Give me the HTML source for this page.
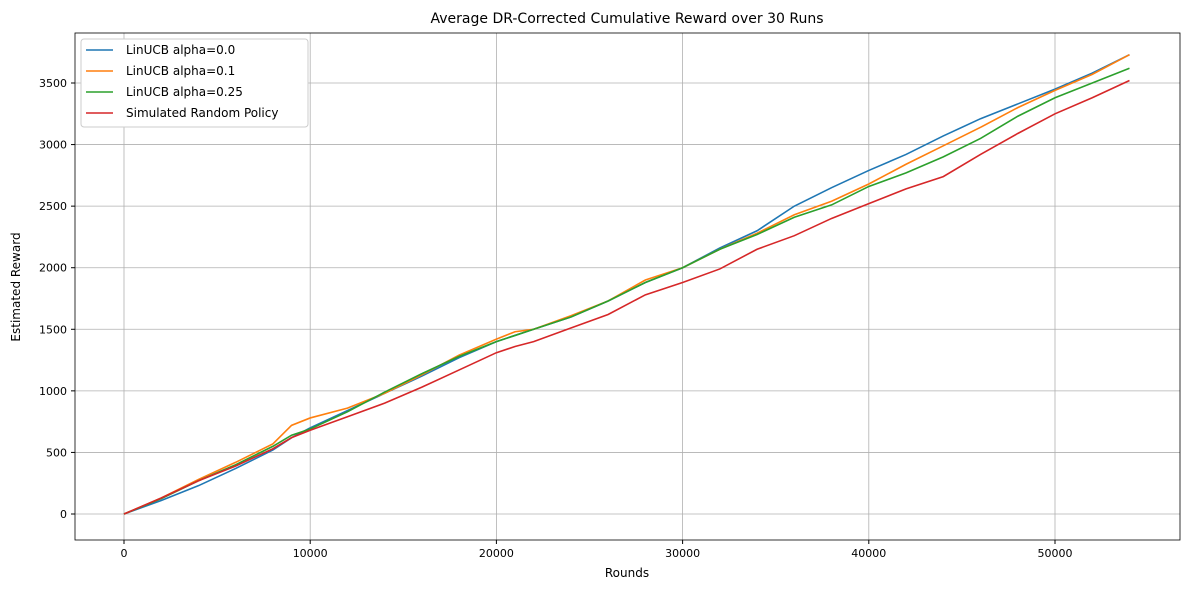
<!DOCTYPE html>
<html><head><meta charset="utf-8"><style>
body{margin:0;background:#fff;font-family:"Liberation Sans","DejaVu Sans",sans-serif}
svg text{font-family:"DejaVu Sans","Liberation Sans",sans-serif;fill:#000}
</style></head><body>
<svg id="chart" width="1189" height="590" xmlns="http://www.w3.org/2000/svg">
<rect width="1189" height="590" fill="#fff"/>
<g id="grid"></g>
<g id="series"></g>
<rect x="75" y="33" width="1105" height="507" fill="none" stroke="#000" stroke-width="0.8"/>
<g id="axes"></g>
<text x="627" y="23" text-anchor="middle" font-size="14">Average DR-Corrected Cumulative Reward over 30 Runs</text>
<text x="627" y="577" text-anchor="middle" font-size="12">Rounds</text>
<text x="20" y="287" text-anchor="middle" font-size="12" transform="rotate(-90 20 287)">Estimated Reward</text>
<g id="legend"></g>
</svg>
<script>
const rounds=[0,2000,4000,6000,8000,9000,10000,12000,14000,16000,18000,20000,21000,22000,24000,26000,28000,30000,32000,34000,36000,38000,40000,42000,44000,46000,48000,50000,52000,54000];
const seriesNames=["LinUCB alpha=0.0","LinUCB alpha=0.1","LinUCB alpha=0.25","Simulated Random Policy"];
const alpha00=[0,110,230,370,520,620,700,840,980,1120,1270,1400,1450,1500,1600,1730,1880,2000,2160,2300,2500,2650,2790,2920,3070,3210,3330,3450,3580,3730];
const alpha01=[0,130,280,420,570,720,780,860,980,1130,1290,1420,1480,1500,1610,1730,1900,2000,2150,2280,2430,2540,2680,2840,2990,3140,3300,3440,3570,3730];
const alpha025=[0,125,270,400,550,640,690,830,990,1140,1280,1400,1450,1500,1600,1730,1880,2000,2150,2270,2410,2510,2660,2770,2900,3050,3230,3380,3500,3620];
const randomPolicy=[0,130,270,390,530,620,680,790,900,1030,1170,1310,1360,1400,1510,1620,1780,1880,1990,2150,2260,2400,2520,2640,2740,2920,3090,3250,3380,3520];
const xTicks=[0,10000,20000,30000,40000,50000];
const yTicks=[0,500,1000,1500,2000,2500,3000,3500];
const colors=["#1f77b4","#ff7f0e","#2ca02c","#d62728"];
const xs=v=>124+v*(1055-124)/50000;
const ys=v=>514-v*(514-83)/3500;
const NS="http://www.w3.org/2000/svg";
function mk(t,a,p){const e=document.createElementNS(NS,t);for(const k in a)e.setAttribute(k,a[k]);p.appendChild(e);return e;}
const grid=document.getElementById('grid'),axes=document.getElementById('axes'),ser=document.getElementById('series'),leg=document.getElementById('legend');
xTicks.forEach(t=>{const x=xs(t);
const g=mk('line',{x1:x,x2:x,y1:33,y2:540,stroke:'#b0b0b0','stroke-width':0.8},grid);


mk('line',{x1:x,x2:x,y1:540,y2:544,stroke:'#000'},axes);
const l=mk('text',{x:x,y:557,'text-anchor':'middle','font-size':11},axes);l.textContent=t;

});
yTicks.forEach(t=>{const y=ys(t);
const g=mk('line',{x1:75,x2:1180,y1:y,y2:y,stroke:'#b0b0b0','stroke-width':0.8},grid);


mk('line',{x1:71,x2:75,y1:y,y2:y,stroke:'#000'},axes);
const l=mk('text',{x:67,y:y+4,'text-anchor':'end','font-size':11},axes);l.textContent=t;

});
[alpha00,alpha01,alpha025,randomPolicy].forEach((d,i)=>{
const p=mk('polyline',{points:d.map((v,j)=>xs(rounds[j])+','+ys(v)).join(' '),fill:'none',stroke:colors[i],'stroke-width':1.6},ser);

});
const box=mk('rect',{x:81,y:39,width:227,height:88,fill:'#fff',stroke:'#ccc',rx:3},leg);


seriesNames.forEach((n,i)=>{const y=50+i*21;
mk('line',{x1:86,x2:113,y1:y,y2:y,stroke:colors[i],'stroke-width':1.6},leg);
const t=mk('text',{x:126,y:y+4,'font-size':12},leg);t.textContent=n;

});
</script>
</body></html>
